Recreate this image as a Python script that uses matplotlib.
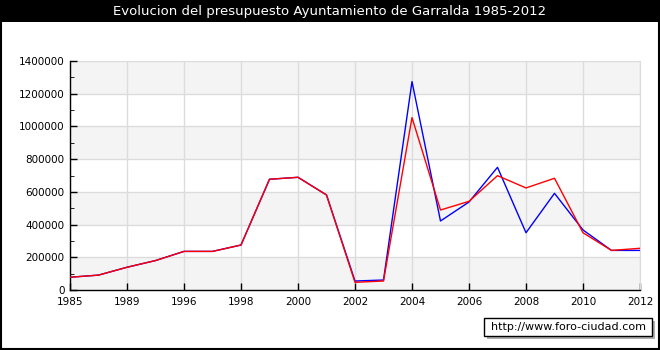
import matplotlib
matplotlib.use("Agg")
import matplotlib.pyplot as plt
from matplotlib.patches import Rectangle

# categorias (eje x) y etiquetas visibles
anios = ['1985', '1987', '1989', '1993', '1996', '1997', '1998', '1999', '2000',
         '2001', '2002', '2003', '2004', '2005', '2006', '2007', '2008', '2009',
         '2010', '2011', '2012']
etiquetas_x = ['1985', '1989', '1996', '1998', '2000', '2002', '2004', '2006',
               '2008', '2010', '2012']

# serie azul (ingresos) y serie roja (gastos)
ingresos = [78000, 91000, 139000, 180000, 236000, 236000, 275000, 677000, 689000,
            581000, 55000, 61000, 1274000, 422000, 538000, 750000, 350000, 591000,
            367000, 242000, 242000]
gastos = [78000, 91000, 139000, 180000, 236000, 236000, 275000, 677000, 689000,
          581000, 47000, 55000, 1054000, 489000, 542000, 699000, 624000, 683000,
          350000, 242000, 255000]

y_ticks = [0, 200000, 400000, 600000, 800000, 1000000, 1200000, 1400000]

fig = plt.figure(figsize=(6.6, 3.5), dpi=100, facecolor='white')

# barra del titulo y marco
fig.patches.append(Rectangle((0, 1 - 22 / 350), 1, 22 / 350, transform=fig.transFigure,
                             facecolor='black', edgecolor='none', zorder=0))
fig.patches.append(Rectangle((0.001, 0.002), 0.997, 0.996, transform=fig.transFigure,
                             facecolor='none', edgecolor='black', linewidth=1.5, zorder=5))
fig.text(0.5, 1 - 11 / 350, 'Evolucion del presupuesto Ayuntamiento de Garralda 1985-2012',
         color='white', fontsize=9.5, ha='center', va='center')

ax = fig.add_axes([70 / 660, 1 - 290 / 350, 570 / 660, 229 / 350])
x = list(range(len(anios)))

# bandas alternas
for i in range(0, len(y_ticks) - 1):
    if i % 2 == 0:
        ax.axhspan(y_ticks[i], y_ticks[i + 1], color='#f4f4f4', zorder=0, linewidth=0)

for yv in y_ticks[1:]:
    ax.axhline(yv, color='#dcdcdc', linewidth=1, zorder=1)
for xv in range(0, len(anios), 2):
    ax.axvline(xv, color='#dcdcdc', linewidth=1, zorder=1)

ax.plot(x, ingresos, color='blue', linewidth=1, zorder=3)
ax.plot(x, gastos, color='red', linewidth=1, zorder=4)

ax.set_xlim(0, len(anios) - 1)
ax.set_ylim(0, 1400000)
ax.set_xticks(range(0, len(anios), 2))
ax.set_xticklabels(etiquetas_x)
ax.set_yticks(y_ticks)
ax.set_yticklabels([str(v) for v in y_ticks])
ax.set_yticks(range(100000, 1400000, 200000), minor=True)
ax.tick_params(axis='both', direction='in', labelsize=7.5, length=5, width=1)
ax.tick_params(axis='x', pad=5)
ax.tick_params(axis='y', pad=4)
ax.tick_params(axis='y', which='minor', direction='in', length=3)
ax.spines['top'].set_visible(False)
ax.spines['right'].set_color('#dcdcdc')
ax.spines['left'].set_linewidth(1)
ax.spines['bottom'].set_linewidth(1)

# recuadro de la web con sombra
fig.patches.append(Rectangle((487 / 660, 1 - 339 / 350), 168 / 660, 18 / 350,
                             transform=fig.transFigure, facecolor='#b0b0b0',
                             edgecolor='none', zorder=2))
fig.patches.append(Rectangle((484 / 660, 1 - 336 / 350), 168 / 660, 18 / 350,
                             transform=fig.transFigure, facecolor='white',
                             edgecolor='black', linewidth=1, zorder=3))
fig.text(568 / 660, 1 - 327 / 350, 'http://www.foro-ciudad.com', fontsize=8,
         ha='center', va='center', color='black', zorder=4)

fig.savefig('out.png', dpi=100)
